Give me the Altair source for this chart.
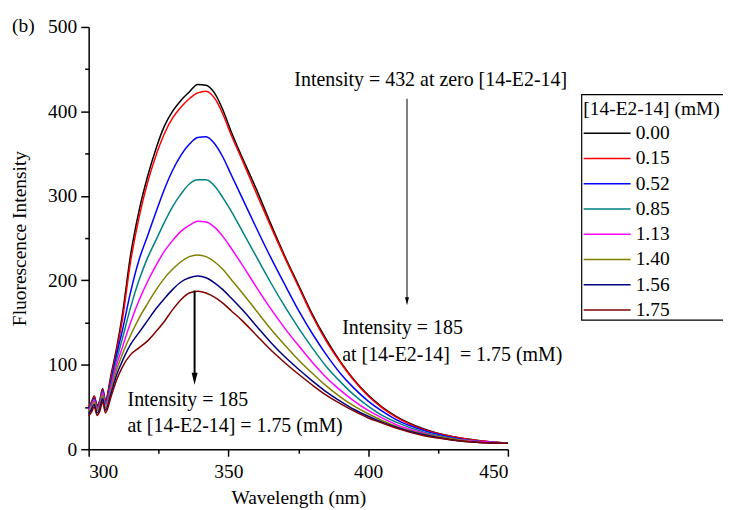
import altair as alt
import pandas as pd

wavelength = [300, 301, 302, 303, 304, 305, 306, 308, 310, 312, 315, 318, 321, 324, 327, 330, 333, 336, 339, 342,
              345, 348, 351, 355, 360, 365, 370, 375, 380, 385, 390, 395, 400, 405, 410, 420, 430, 440, 450]

conc_labels = ["0.00", "0.15", "0.52", "0.85", "1.13", "1.40", "1.56", "1.75"]
colors = ["#000000", "#ff0000", "#0000ff", "#008080", "#ff00ff", "#808000", "#000080", "#800000"]

i_000 = [50, 55, 63, 52, 58, 72, 58, 88, 120, 158, 230, 282, 322, 355, 382, 400, 413, 423, 432, 431,
         422, 402, 376, 345, 308, 268, 230, 195, 160, 130, 104, 82, 64, 50, 39, 24, 15, 10, 7]
i_015 = [50, 56, 62, 51, 57, 71, 57, 85, 117, 152, 222, 274, 315, 347, 373, 392, 405, 415, 422, 424,
         416, 397, 372, 342, 303, 265, 228, 193, 158, 128, 103, 81, 63, 49, 38, 23, 15, 10, 7]
i_052 = [48, 54, 60, 50, 55, 69, 55, 80, 112, 140, 186, 224, 252, 280, 307, 330, 348, 361, 369, 370,
         362, 346, 325, 297, 262, 228, 196, 165, 137, 112, 90, 72, 57, 45, 35, 22, 14, 9, 7]
i_085 = [47, 53, 59, 49, 54, 68, 54, 77, 106, 130, 168, 200, 226, 247, 268, 287, 302, 314, 319, 319,
         312, 298, 282, 258, 228, 198, 170, 144, 120, 98, 80, 64, 51, 40, 32, 20, 13, 9, 7]
i_113 = [46, 52, 58, 48, 53, 67, 52, 74, 100, 120, 150, 176, 198, 217, 234, 247, 258, 265, 270, 269,
         263, 252, 238, 218, 192, 167, 144, 123, 103, 85, 70, 57, 46, 37, 29, 19, 12, 9, 7]
i_140 = [44, 50, 56, 46, 51, 64, 49, 70, 94, 112, 135, 155, 172, 188, 202, 213, 222, 228, 230, 228,
         222, 213, 201, 185, 164, 143, 124, 106, 90, 75, 62, 51, 42, 34, 27, 18, 12, 8, 7]
i_156 = [42, 47, 53, 43, 48, 60, 46, 66, 88, 104, 124, 138, 152, 166, 178, 189, 198, 203, 205, 203,
         197, 189, 179, 165, 146, 127, 110, 95, 81, 68, 57, 47, 39, 32, 26, 17, 11, 8, 7]
i_175 = [39, 44, 50, 40, 45, 56, 43, 62, 82, 97, 112, 120, 128, 139, 151, 165, 177, 185, 187, 185,
         180, 173, 164, 152, 135, 118, 103, 89, 76, 64, 54, 45, 37, 31, 25, 16, 11, 8, 7]

series = [i_000, i_015, i_052, i_085, i_113, i_140, i_156, i_175]

rows = []
for lab, vals in zip(conc_labels, series):
    for w, v in zip(wavelength, vals):
        rows.append({"wl": w, "I": v, "conc": lab})
df = pd.DataFrame(rows)

legend_df = pd.DataFrame({"conc": conc_labels, "idx": list(range(len(conc_labels)))})

FONT = "Liberation Serif"
FS = 19.5
FS_NOTE = 20

x_scale = alt.Scale(domain=[300, 450], nice=False, zero=False)
y_scale = alt.Scale(domain=[0, 500], nice=False)
color_scale = alt.Scale(domain=conc_labels, range=colors)

x_axis = alt.Axis(
    values=[300, 325, 350, 375, 400, 425, 450],
    labelExpr="datum.value % 50 === 0 ? datum.label : ''",
    tickSize={"condition": {"test": "datum.value % 50 === 0", "value": 7}, "value": 4},
    title="Wavelength (nm)", grid=False, labelFont=FONT, titleFont=FONT,
    labelFontSize=FS, titleFontSize=FS, titleFontWeight="normal",
    labelPadding=6, titlePadding=8, domainColor="black", tickColor="black",
    domainWidth=1.5, tickWidth=1.5, labelColor="black", titleColor="black",
)
y_axis = alt.Axis(
    values=[0, 50, 100, 150, 200, 250, 300, 350, 400, 450, 500],
    labelExpr="datum.value % 100 === 0 ? datum.label : ''",
    tickSize={"condition": {"test": "datum.value % 100 === 0", "value": 8}, "value": 4},
    title="Fluorescence Intensity", grid=False, labelFont=FONT, titleFont=FONT,
    labelFontSize=FS, titleFontSize=FS, titleFontWeight="normal",
    labelPadding=4, titlePadding=18, domainColor="black", tickColor="black",
    domainWidth=1.5, tickWidth=1.5, labelColor="black", titleColor="black",
)

lines = alt.Chart(df).mark_line(strokeWidth=1.5, interpolate="monotone").encode(
    x=alt.X("wl:Q", scale=x_scale, axis=x_axis),
    y=alt.Y("I:Q", scale=y_scale, axis=y_axis),
    color=alt.Color("conc:N", scale=color_scale, sort=conc_labels, legend=None),
    order=alt.Order("order:Q"),
).transform_calculate(order="-indexof(['0.00','0.15','0.52','0.85','1.13','1.40','1.56','1.75'], datum.conc)")

one = pd.DataFrame({"k": [0]})

def label(txt, x, y, align="left"):
    return alt.Chart(one).mark_text(align=align, baseline="middle", font=FONT, fontSize=FS_NOTE, color="black").encode(
        x=alt.datum(x), y=alt.datum(y), text=alt.value(txt))

t1 = label("Intensity = 432 at zero [14-E2-14]", 373.6, 437.6)
t2 = label("Intensity = 185", 390.7, 143.5)
t3 = label("at [14-E2-14] \u00a0= 1.75 (mM)", 390.7, 111.8)
t4 = label("Intensity = 185", 313.9, 58.8)
t5 = label("at [14-E2-14] = 1.75 (mM)", 313.9, 27.0)

panel_tag = alt.Chart(one).mark_text(align="left", baseline="middle", font=FONT, fontSize=FS, color="black").encode(
    x=alt.value(-77), y=alt.value(-1), text=alt.value("(b)"))

r1 = alt.Chart(one).mark_rule(color="black", strokeWidth=1).encode(
    x=alt.datum(413.9), y=alt.datum(415), y2=alt.datum(178))
a1 = alt.Chart(one).mark_point(shape="M-0.5,-1L0.5,-1L0,1Z", filled=True, size=64, color="black", opacity=1).encode(
    x=alt.datum(413.9), y=alt.datum(175.3))

r2 = alt.Chart(one).mark_rule(color="black", strokeWidth=2).encode(
    x=alt.datum(337.9), y=alt.datum(188), y2=alt.datum(86))
a2 = alt.Chart(one).mark_point(shape="M-0.5,-1L0.5,-1L0,1Z", filled=True, size=144, color="black", opacity=1).encode(
    x=alt.datum(337.9), y=alt.datum(83.5))

# manual legend (placed in data coordinates outside the plotting range)
leg_box = alt.Chart(one).mark_rect(fill="white", stroke="black", strokeWidth=1.2).encode(
    x=alt.datum(476.4), x2=alt.datum(527.6), y=alt.datum(420.0), y2=alt.datum(152.9))
leg_title = alt.Chart(one).mark_text(align="left", baseline="middle", font=FONT, fontSize=FS, color="black").encode(
    x=alt.datum(477.0), y=alt.datum(402.4), text=alt.value("[14-E2-14] (mM)"))
leg_base = alt.Chart(legend_df).transform_calculate(
    ly="(450 - (132 + 25.4 * datum.idx)) / 0.85", lx1="477.1", lx2="493.9", lt="495.7")
leg_lines = leg_base.mark_rule(strokeWidth=1.5).encode(
    x=alt.X("lx1:Q", scale=x_scale), x2="lx2:Q", y=alt.Y("ly:Q", scale=y_scale),
    color=alt.Color("conc:N", scale=color_scale, legend=None))
leg_text = leg_base.mark_text(align="left", baseline="middle", font=FONT, fontSize=FS, color="black").encode(
    x=alt.X("lt:Q", scale=x_scale), y=alt.Y("ly:Q", scale=y_scale), text="conc:N")

chart = alt.layer(lines, t1, t2, t3, t4, t5, panel_tag, r1, a1, r2, a2,
                  leg_box, leg_title, leg_lines, leg_text).properties(
    width=421, height=424,
    autosize=alt.AutoSizeParams(type="none"),
    padding={"left": 81, "top": 18, "right": 216, "bottom": 60},
).configure_view(stroke="transparent")

chart.save("out.html", embed_options={"renderer": "svg", "actions": False})
